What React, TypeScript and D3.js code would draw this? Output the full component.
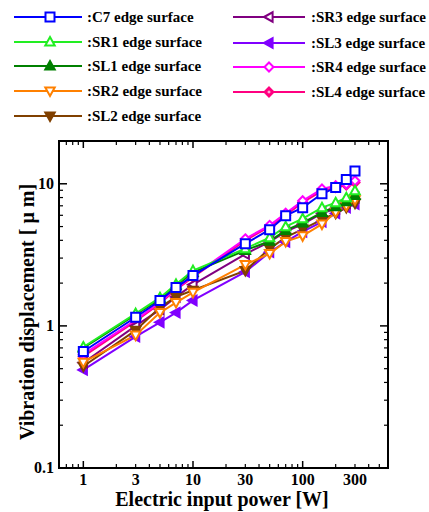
import React from "react";
import * as d3 from "d3";

const powers = [1, 3, 5, 7, 10, 30, 50, 70, 100, 150, 200, 250, 300];

const C7 = [0.66, 1.15, 1.51, 1.86, 2.26, 3.79, 4.75, 5.96, 6.79, 8.5, 9.4, 10.7, 12.3];
const SR1 = [0.71, 1.22, 1.58, 1.96, 2.45, 3.5, 4.18, 4.99, 5.68, 6.79, 7.36, 7.98, 8.93];
const SL1 = [0.7, 1.2, 1.55, 1.92, 2.38, 3.4, 3.95, 4.7, 5.3, 6.3, 6.9, 7.5, 8.3];
const SR2 = [0.555, 0.86, 1.24, 1.46, 1.72, 2.7, 3.23, 3.92, 4.3, 5.2, 6.3, 7.0, 7.7];
const SL2 = [0.52, 0.93, 1.35, 1.6, 1.78, 2.45, 3.5, 4.2, 4.8, 5.6, 6.2, 6.8, 7.3];
const SR3 = [0.55, 1.0, 1.3, 1.6, 1.95, 3.2, 3.9, 4.6, 5.2, 6.2, 6.7, 7.3, 8.0];
const SL3 = [0.49, 0.84, 1.06, 1.24, 1.51, 2.4, 3.3, 3.9, 4.6, 5.4, 6.2, 6.8, 7.2];
const SR4 = [0.63, 1.1, 1.47, 1.83, 2.25, 4.1, 5.1, 6.2, 7.6, 9.2, 9.7, 9.96, 10.5];
const SL4 = [0.61, 1.08, 1.44, 1.8, 2.2, 4.0, 5.0, 6.0, 7.4, 8.9, 9.4, 9.8, 10.2];

const seriesNames = [
  "C7 edge surface",
  "SR1 edge surface",
  "SL1 edge surface",
  "SR2 edge surface",
  "SL2 edge surface",
  "SR3 edge surface",
  "SL3 edge surface",
  "SR4 edge surface",
  "SL4 edge surface",
];
const seriesValues = [C7, SR1, SL1, SR2, SL2, SR3, SL3, SR4, SL4];
const seriesColors = ["#0000ff", "#22ee22", "#008000", "#ff8000", "#804000", "#800080", "#8000ff", "#ff00ff", "#ff0080"];
const seriesMarkers = ["square", "up", "up", "down", "down", "left", "left", "diamond", "diamond"];
const seriesFilled = [false, false, true, false, true, false, true, false, true];

const xTickLabels = [1, 3, 10, 30, 100, 300];
const xMajor = [1, 10, 100];
const xMinor = [0.6, 0.7, 0.8, 0.9, 2, 3, 4, 5, 6, 7, 8, 9, 20, 30, 40, 50, 60, 70, 80, 90, 200, 300, 400, 500];
const yTickLabels = [0.1, 1, 10];
const yMinor = [0.2, 0.3, 0.4, 0.5, 0.6, 0.7, 0.8, 0.9, 2, 3, 4, 5, 6, 7, 8, 9];

const W = 429;
const H = 512;
const left = 59, right = 388, top = 141, bottom = 468;

function markerPath(type: string, s: number): string {
  const h = s / 2;
  switch (type) {
    case "square":
      return `M${-h},${-h}H${h}V${h}H${-h}Z`;
    case "up":
      return `M0,${-h * 1.1}L${h * 1.05},${h * 0.8}L${-h * 1.05},${h * 0.8}Z`;
    case "down":
      return `M0,${h * 1.1}L${h * 1.05},${-h * 0.8}L${-h * 1.05},${-h * 0.8}Z`;
    case "left":
      return `M${-h * 1.1},0L${h * 0.8},${-h * 1.05}L${h * 0.8},${h * 1.05}Z`;
    default:
      return `M0,${-h}L${h},0L0,${h}L${-h},0Z`;
  }
}

function Marker({ x, y, i, size }: { x: number; y: number; i: number; size: number }) {
  const color = seriesColors[i];
  const filled = seriesFilled[i];
  return (
    <g transform={`translate(${x},${y})`}>
      <path
        d={markerPath(seriesMarkers[i], size)}
        fill={filled ? color : "#ffffff"}
        stroke={color}
        strokeWidth={2}
      />
      {seriesMarkers[i] === "diamond" && filled ? (
        <path d={markerPath("diamond", size * 0.4)} fill="#ffb0d8" stroke="none" />
      ) : null}
    </g>
  );
}

export default function App() {
  const x = d3.scaleLog().domain([0.6, 600]).range([left, right]);
  const y = d3.scaleLog().domain([0.1, 20]).range([bottom, top]);

  const line = d3
    .line<[number, number]>()
    .x((d) => x(d[0]))
    .y((d) => y(d[1]));

  const order = [8, 7, 6, 5, 4, 3, 2, 1, 0];
  const fontFamily = "'Liberation Serif', 'Times New Roman', serif";

  const legendLeft = [0, 1, 2, 3, 4];
  const legendLeftY = [17, 42, 66, 91, 116];
  const legendRight = [5, 6, 7, 8];
  const legendRightY = [17, 43, 67, 92];

  return (
    <svg
      width={W}
      height={H}
      style={{ position: "absolute", left: 0, top: 0, background: "#ffffff" }}
      fontFamily={fontFamily}
      fontWeight="bold"
    >
      <rect x={0} y={0} width={W} height={H} fill="#ffffff" />

      {/* legend */}
      {legendLeft.map((i, k) => (
        <g key={`ll${i}`}>
          <line x1={14} x2={82} y1={legendLeftY[k]} y2={legendLeftY[k]} stroke={seriesColors[i]} strokeWidth={2} />
          <Marker x={50} y={legendLeftY[k]} i={i} size={9} />
          <text x={87} y={legendLeftY[k] + 5} fontSize={15} fill="#000">
            {":" + seriesNames[i]}
          </text>
        </g>
      ))}
      {legendRight.map((i, k) => (
        <g key={`lr${i}`}>
          <line x1={233} x2={305} y1={legendRightY[k]} y2={legendRightY[k]} stroke={seriesColors[i]} strokeWidth={2} />
          <Marker x={269} y={legendRightY[k]} i={i} size={9} />
          <text x={311} y={legendRightY[k] + 5} fontSize={15} fill="#000">
            {":" + seriesNames[i]}
          </text>
        </g>
      ))}

      {/* series */}
      {order.map((i) => {
        const pts: [number, number][] = powers.map((p, j) => [p, seriesValues[i][j]]);
        return (
          <g key={`s${i}`}>
            <path d={line(pts) || ""} fill="none" stroke={seriesColors[i]} strokeWidth={2} />
          </g>
        );
      })}
      {order.map((i) => (
        <g key={`m${i}`}>
          {powers.map((p, j) => (
            <Marker key={j} x={x(p)} y={y(seriesValues[i][j])} i={i} size={9} />
          ))}
        </g>
      ))}

      {/* frame */}
      <rect x={left} y={top} width={right - left} height={bottom - top} fill="none" stroke="#000" strokeWidth={2} />

      {/* x ticks */}
      {xMajor.map((v) => (
        <g key={`xM${v}`}>
          <line x1={x(v)} x2={x(v)} y1={bottom} y2={bottom - 7} stroke="#000" strokeWidth={1.5} />
          <line x1={x(v)} x2={x(v)} y1={top} y2={top + 7} stroke="#000" strokeWidth={1.5} />
        </g>
      ))}
      {xMinor.map((v) => (
        <g key={`xm${v}`}>
          <line x1={x(v)} x2={x(v)} y1={bottom} y2={bottom - 4} stroke="#000" strokeWidth={1.2} />
          <line x1={x(v)} x2={x(v)} y1={top} y2={top + 4} stroke="#000" strokeWidth={1.2} />
        </g>
      ))}
      {xTickLabels.map((v) => (
        <text key={`xl${v}`} x={x(v)} y={485} fontSize={16} textAnchor="middle" fill="#000">
          {v}
        </text>
      ))}

      {/* y ticks */}
      {yTickLabels.map((v) => (
        <g key={`yM${v}`}>
          <line x1={left} x2={left + 8} y1={y(v)} y2={y(v)} stroke="#000" strokeWidth={1.5} />
          <line x1={right} x2={right - 8} y1={y(v)} y2={y(v)} stroke="#000" strokeWidth={1.5} />
          <text x={54} y={y(v) + 5} fontSize={16} textAnchor="end" fill="#000">
            {v}
          </text>
        </g>
      ))}
      {yMinor.map((v) => (
        <g key={`ym${v}`}>
          <line x1={left} x2={left + 4} y1={y(v)} y2={y(v)} stroke="#000" strokeWidth={1.2} />
          <line x1={right} x2={right - 4} y1={y(v)} y2={y(v)} stroke="#000" strokeWidth={1.2} />
        </g>
      ))}

      {/* axis titles */}
      <text x={222} y={506} fontSize={20} textAnchor="middle" fill="#000">
        Electric input power [W]
      </text>
      <text
        transform={`translate(34, 312) rotate(-90)`}
        fontSize={20}
        textAnchor="middle"
        fill="#000"
      >
        Vibration displacement [ μ m]
      </text>
    </svg>
  );
}
